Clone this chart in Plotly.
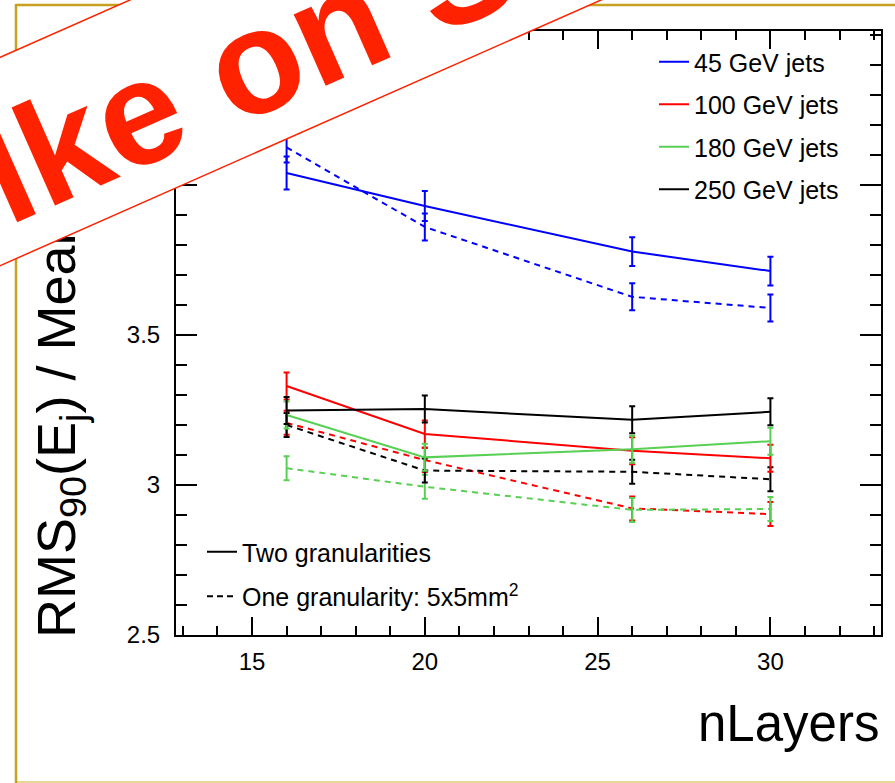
import plotly.graph_objects as go

# ---------------- data ----------------
n_layers = [16, 20, 26, 30]

energies = ["45 GeV jets", "100 GeV jets", "180 GeV jets", "250 GeV jets"]
colors = ["#0000ff", "#ff0000", "#57d054", "#000000"]

# Two granularities (solid)
two_gran = {
    "45 GeV jets":  [4.04, 3.93, 3.778, 3.713],
    "100 GeV jets": [3.33, 3.17, 3.114, 3.089],
    "180 GeV jets": [3.233, 3.092, 3.119, 3.146],
    "250 GeV jets": [3.248, 3.253, 3.217, 3.244],
}
two_gran_err = {
    "45 GeV jets":  [0.055, 0.05, 0.048, 0.048],
    "100 GeV jets": [0.045, 0.045, 0.045, 0.045],
    "180 GeV jets": [0.045, 0.045, 0.045, 0.045],
    "250 GeV jets": [0.045, 0.045, 0.045, 0.045],
}
# One granularity 5x5 mm2 (dashed)
one_gran = {
    "45 GeV jets":  [4.125, 3.86, 3.627, 3.59],
    "100 GeV jets": [3.207, 3.083, 2.922, 2.903],
    "180 GeV jets": [3.056, 2.994, 2.917, 2.92],
    "250 GeV jets": [3.2, 3.048, 3.044, 3.019],
}
one_gran_err = {
    "45 GeV jets":  [0.05, 0.045, 0.045, 0.045],
    "100 GeV jets": [0.04, 0.04, 0.04, 0.04],
    "180 GeV jets": [0.04, 0.04, 0.04, 0.04],
    "250 GeV jets": [0.04, 0.04, 0.04, 0.04],
}

x_range = [12.8, 33.2]
y_range = [2.5, 4.513]
x_ticks = [15, 20, 25, 30]
y_ticks = [2.5, 3, 3.5, 4]
y_tick_text = ["2.5", "3", "3.5", "4"]

FONT = "Liberation Sans, Arial, Helvetica, sans-serif"
W, H = 895, 783
ML, MR, MT, MB = 176, 14, 31, 148
PW, PH = W - ML - MR, H - MT - MB


def px_x(px):
    return (px - ML) / PW


def px_y(py):
    return (H - MB - py) / PH


fig = go.Figure()

for name, col in zip(energies, colors):
    fig.add_trace(go.Scatter(
        x=n_layers, y=one_gran[name], mode="lines",
        line=dict(color=col, width=2, dash="6px,5px"),
        error_y=dict(type="data", array=one_gran_err[name], color=col, thickness=2, width=3),
        showlegend=False, hoverinfo="skip"))

for name, col in zip(energies, colors):
    fig.add_trace(go.Scatter(
        x=n_layers, y=two_gran[name], mode="lines", name=name,
        line=dict(color=col, width=2),
        error_y=dict(type="data", array=two_gran_err[name], color=col, thickness=2, width=3),
        legend="legend", legendgroup=name, showlegend=True))

# style legend entries
fig.add_trace(go.Scatter(x=[None], y=[None], mode="lines", name="Two granularities",
                         line=dict(color="black", width=2), legend="legend2",
                         legendgroup="two"))
fig.add_trace(go.Scatter(x=[None], y=[None], mode="lines",
                         name="One granularity: 5x5mm<sup>2</sup>",
                         line=dict(color="black", width=2, dash="6px,4px"), legend="legend2",
                         legendgroup="one"))

axis_common = dict(
    showgrid=False, zeroline=False, showline=True, linecolor="black", linewidth=2,
    mirror="allticks", ticks="inside", tickcolor="black", tickwidth=1.5,
    tickfont=dict(family=FONT, size=24, color="black"),
)

fig.update_xaxes(range=x_range, tickvals=x_ticks, ticklen=18,
                 minor=dict(dtick=1, tick0=0, ticks="inside", ticklen=9, tickcolor="black", tickwidth=1.5),
                 ticklabelstandoff=4, **axis_common)
fig.update_yaxes(range=y_range, tickvals=y_ticks, ticktext=y_tick_text, ticklen=21,
                 minor=dict(dtick=0.1, tick0=2.5, ticks="inside", ticklen=11, tickcolor="black", tickwidth=1.5),
                 ticklabelstandoff=9, **axis_common)

# gold frame
gold = "#c8a020"
fig.add_shape(type="line", xref="paper", yref="paper", x0=px_x(16), x1=px_x(900),
              y0=px_y(5), y1=px_y(5), line=dict(color=gold, width=2.5))
fig.add_shape(type="line", xref="paper", yref="paper", x0=px_x(16), x1=px_x(900),
              y0=px_y(782), y1=px_y(782), line=dict(color="#e2c870", width=1.5))
fig.add_shape(type="line", xref="paper", yref="paper", x0=px_x(16), x1=px_x(16),
              y0=px_y(4), y1=px_y(783), line=dict(color=gold, width=2.5))

BANNER_ANGLE = -23.85
annotations = [
    dict(text="RMS<sub>90</sub>(E<sub>j</sub>) / Mean(E<sub>j</sub>) [%]", textangle=-90,
         xref="paper", yref="paper", x=px_x(60), y=px_y(340), xanchor="center", yanchor="middle",
         showarrow=False, font=dict(family=FONT, size=54, color="black")),
    dict(text="nLayers", xref="paper", yref="paper", x=px_x(881), y=px_y(723),
         xanchor="right", yanchor="middle", showarrow=False,
         font=dict(family=FONT, size=51, color="black")),
    # banner band
    dict(text=" ", textangle=BANNER_ANGLE,
         xref="paper", yref="paper", x=px_x(223), y=px_y(63), xanchor="center", yanchor="middle",
         showarrow=False, width=1600, height=189, borderpad=0, borderwidth=1.5,
         bordercolor="#ff2200", bgcolor="white",
         font=dict(family=FONT, size=20, color="#ff2200")),
    # banner text
    dict(text="<b>lke on S</b>", textangle=BANNER_ANGLE,
         xref="paper", yref="paper", x=px_x(247), y=px_y(65), xanchor="center", yanchor="middle",
         showarrow=False, font=dict(family=FONT, size=148, color="#ff2200")),
]

fig.update_layout(
    width=W, height=H,
    margin=dict(l=ML, r=MR, t=MT, b=MB, pad=0),
    paper_bgcolor="white", plot_bgcolor="white",
    annotations=annotations,
    legend=dict(x=px_x(654), y=px_y(39), xanchor="left", yanchor="top",
                font=dict(family=FONT, size=25, color="black"),
                bgcolor="rgba(255,255,255,0)", tracegroupgap=7, itemwidth=30,
                traceorder="grouped"),
    legend2=dict(x=px_x(202), y=px_y(529), xanchor="left", yanchor="top",
                 font=dict(family=FONT, size=25, color="black"),
                 bgcolor="rgba(255,255,255,0)", tracegroupgap=9, itemwidth=30,
                 traceorder="grouped"),
)

fig.write_html("out.html", post_script="document.body.style.margin='0px';",
               config={"displayModeBar": False})
